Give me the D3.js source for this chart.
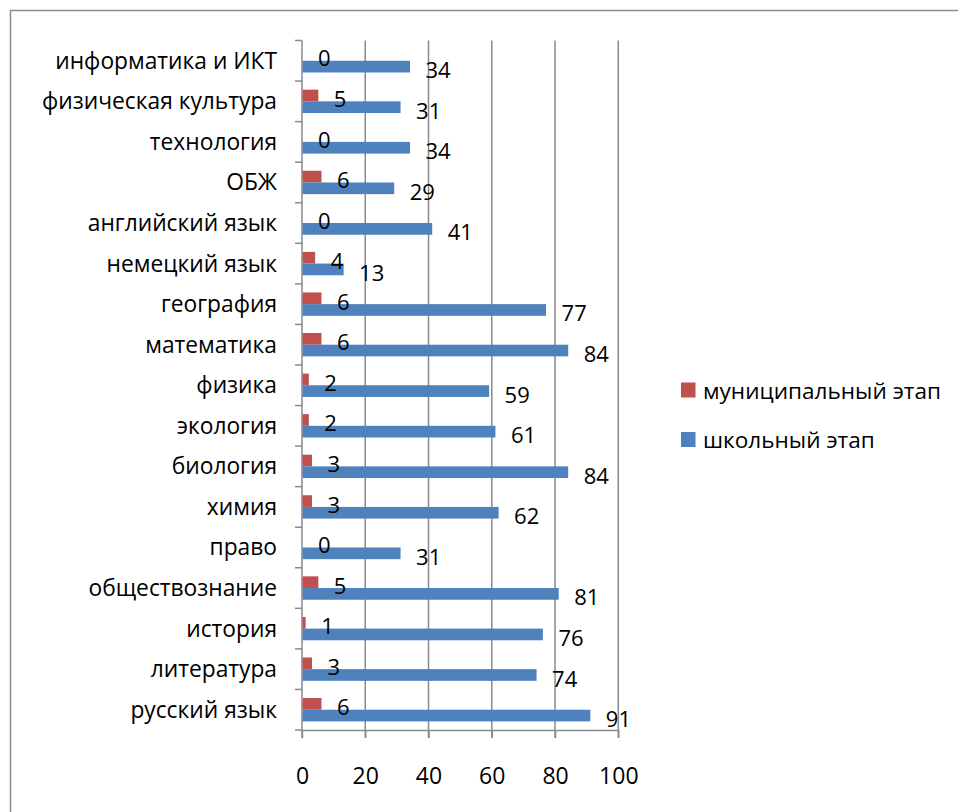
<!DOCTYPE html>
<html><head><meta charset="utf-8">
<script src="https://cdn.jsdelivr.net/npm/d3@7"></script>
<style>html,body{margin:0;padding:0;background:#fff;}svg{display:block;}</style>
</head><body>
<script>
// Categories listed bottom-to-top
const categories = ["русский язык","литература","история","обществознание","право","химия","биология","экология","физика","математика","география","немецкий язык","английский язык","ОБЖ","технология","физическая культура","информатика и ИКТ"];
const municipal = [6,3,1,5,0,3,3,2,2,6,6,4,0,6,0,5,0];
const school = [91,74,76,81,31,62,84,61,59,84,77,13,41,29,34,31,34];
const seriesNames = ["муниципальный этап","школьный этап"];
const seriesColors = ["#C0504D","#4F81BD"];
const xTicks = [0,20,40,60,80,100];

const W = 958, H = 812;
const font = "'Open Sans', 'Noto Sans', sans-serif";
const svg = d3.select("body").append("svg").attr("width", W).attr("height", H);

// font size fitting a sample string to a target width
function fitSize(str, target) {
  const t = svg.append("text").attr("font-family", font).attr("font-size", 20).text(str);
  const w = t.node().getComputedTextLength();
  t.remove();
  return 20 * target / w;
}
const catSize = fitSize("информатика и ИКТ", 222);
const legSize = fitSize("муниципальный этап", 238);
const valSize = 22;
const tickSize = 23;

// outer border (left and top edges visible)
svg.append("path").attr("d", `M10.5,${H} L10.5,10.5 L${W},10.5`).attr("fill","none").attr("stroke","#8c8c8c").attr("stroke-width",1.5);

const x = d3.scaleLinear().domain([0,100]).range([302,618.3]);
const y = d3.scaleBand().domain(categories.slice().reverse()).range([40.5,730]).paddingInner(0).paddingOuter(0);
const sub = d3.scaleBand().domain([0,1]).range([0,y.bandwidth()]).paddingInner(0).paddingOuter(0.735);

const grid = "#8a8a8a";
// gridlines
svg.append("g").selectAll("line").data(xTicks.filter(d=>d>0)).join("line")
  .attr("x1",d=>x(d)).attr("x2",d=>x(d)).attr("y1",40.5).attr("y2",738)
  .attr("stroke",grid).attr("stroke-width",1.5);

// bottom axis
const xAxis = svg.append("g").attr("transform","translate(0,730)")
  .call(d3.axisBottom(x).tickValues(xTicks).tickSize(8).tickSizeOuter(0).tickPadding(0));
xAxis.select(".domain").attr("stroke",grid).attr("stroke-width",1.5);
xAxis.selectAll(".tick line").attr("stroke",grid).attr("stroke-width",1.5);
xAxis.selectAll("text").attr("font-family",font).attr("font-size",tickSize).attr("fill","#000")
  .attr("y",45).attr("dy",null).attr("dominant-baseline","central");

// left axis
const yAxis = svg.append("g").attr("transform","translate(302,0)")
  .call(d3.axisLeft(y).tickSize(0).tickPadding(25));
yAxis.select(".domain").remove();
yAxis.selectAll("text").attr("font-family",font).attr("font-size",catSize).attr("fill","#000")
  .attr("dy",null).attr("dominant-baseline","central").attr("y",-0.5);
const bounds = y.domain().map(d=>y(d)).concat([730]);
svg.append("g").selectAll("line").data(bounds).join("line")
  .attr("x1",295).attr("x2",302).attr("y1",d=>d).attr("y2",d=>d)
  .attr("stroke",grid).attr("stroke-width",1.5);
svg.append("line").attr("x1",302).attr("x2",302).attr("y1",40.5).attr("y2",738)
  .attr("stroke",grid).attr("stroke-width",1.5);

// bars (all bars first, then labels on top)
const data = [municipal, school];
const barLayer = svg.append("g");
const labelLayer = svg.append("g");
data.forEach((vals, si) => {
  barLayer.append("g").selectAll("rect").data(categories).join("rect")
    .attr("x", x(0)+0.5)
    .attr("y", (c)=>y(c)+sub(si))
    .attr("width", (c,i)=>Math.max(0, x(vals[i])-x(0)))
    .attr("height", sub.bandwidth())
    .attr("fill", seriesColors[si]);
  labelLayer.append("g").selectAll("text").data(categories).join("text")
    .attr("x", (c,i)=>x(vals[i])+16)
    .attr("y", (c)=>y(c)+sub(si)+sub.bandwidth()/2+2.5)
    .attr("dominant-baseline","central")
    .attr("font-family",font).attr("font-size",valSize).attr("fill","#000")
    .text((c,i)=>vals[i]);
});

// legend
const leg = svg.append("g");
seriesNames.forEach((n,i)=>{
  const cy = 390 + i*49.5;
  leg.append("rect").attr("x",681).attr("y",cy-7.5).attr("width",14.5).attr("height",15).attr("fill",seriesColors[i]);
  leg.append("text").attr("x",703).attr("y",cy).attr("dominant-baseline","central")
    .attr("font-family",font).attr("font-size",legSize).attr("fill","#000").text(n);
});
</script>
</body></html>
